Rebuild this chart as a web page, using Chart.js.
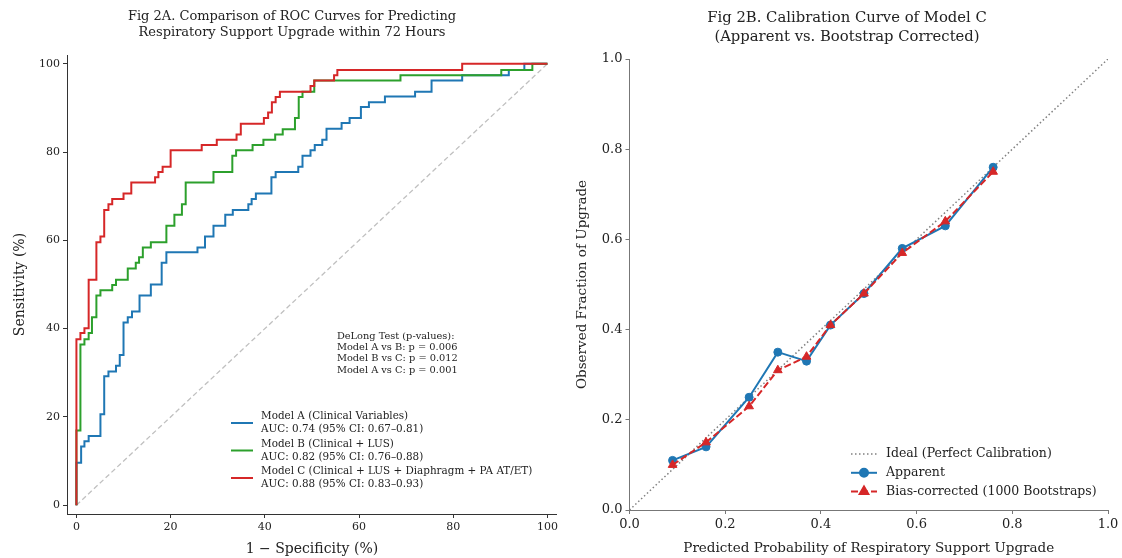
<!DOCTYPE html>
<html>
<head>
<meta charset="utf-8">
<script src="https://cdn.jsdelivr.net/npm/chart.js@4.4.0/dist/chart.umd.min.js"></script>
<style>
  html, body { margin: 0; padding: 0; background: #fff; }
  #wrap { position: relative; width: 1122px; height: 558px; }
  canvas { position: absolute; top: 0; }
</style>
</head>
<body>
<div id="wrap">
  <canvas id="roc" width="561" height="558" style="left:0;width:561px;height:558px"></canvas>
  <canvas id="cal" width="561" height="558" style="left:561px;width:561px;height:558px"></canvas>
</div>
<script>
// ROC curves (FPR %, TPR %)
const fprA = [0, 0, 1.0, 1.7, 2.6, 5.1, 5.9, 6.8, 8.4, 9.2, 10.0, 10.9, 11.8, 13.4, 15.8, 18.1, 19.1, 25.7, 27.3, 29.1, 31.6, 33.2, 36.5, 37.2, 38.1, 41.4, 42.3, 47.1, 48.0, 49.7, 50.6, 52.2, 53.1, 56.3, 58.0, 60.4, 62.1, 65.5, 71.9, 75.4, 81.9, 91.8, 95.1, 100];
const tprA = [0, 9.6, 13.3, 14.5, 15.7, 20.6, 29.2, 30.3, 31.6, 34.0, 41.4, 42.6, 43.9, 47.5, 50.0, 54.9, 57.3, 58.4, 60.9, 63.3, 65.8, 66.9, 68.2, 69.4, 70.6, 74.3, 75.5, 76.7, 79.2, 80.4, 81.6, 82.8, 85.3, 86.6, 87.7, 90.2, 91.3, 92.6, 93.7, 96.2, 97.4, 98.6, 100, 100];
const fprB = [0, 0, 0.85, 1.7, 2.6, 3.3, 4.24, 5.1, 7.6, 8.4, 10.9, 12.6, 13.3, 14.1, 15.8, 19.1, 20.8, 22.4, 23.2, 29.1, 33.1, 33.9, 37.4, 39.7, 42.2, 43.8, 46.4, 47.2, 48.0, 50.5, 68.8, 90.2, 96.8, 100];
const tprB = [0, 16.9, 36.4, 37.6, 39.0, 42.6, 47.5, 48.7, 49.9, 51.1, 53.6, 54.9, 56.2, 58.4, 59.6, 63.3, 65.8, 68.2, 73.1, 75.5, 79.2, 80.4, 81.6, 82.8, 84.0, 85.2, 87.7, 92.5, 93.7, 96.2, 97.4, 98.6, 100, 100];
const fprC = [0, 0, 0.85, 1.7, 2.6, 4.24, 5.1, 5.9, 6.8, 7.6, 10.0, 11.65, 16.7, 17.4, 18.3, 20.0, 26.6, 29.8, 34.0, 34.9, 39.8, 40.7, 41.5, 42.3, 43.2, 49.7, 50.5, 54.7, 55.4, 81.9, 100];
const tprC = [0, 37.6, 39.0, 40.1, 51.1, 59.6, 60.9, 66.9, 68.2, 69.4, 70.6, 73.1, 74.3, 75.5, 76.7, 80.4, 81.6, 82.8, 84.0, 86.4, 87.7, 89.0, 91.3, 92.5, 93.7, 95.0, 96.2, 97.4, 98.6, 100, 100];
const chanceX = [0, 100];
const chanceY = [0, 100];
const rocTicks = [0, 20, 40, 60, 80, 100];

const rocLabels = [
  ["Model A (Clinical Variables)", "AUC: 0.74 (95% CI: 0.67\u20130.81)"],
  ["Model B (Clinical + LUS)", "AUC: 0.82 (95% CI: 0.76\u20130.88)"],
  ["Model C (Clinical + LUS + Diaphragm + PA AT/ET)", "AUC: 0.88 (95% CI: 0.83\u20130.93)"]
];
const delongText = [
  "DeLong Test (p-values):",
  "Model A vs B: p = 0.006",
  "Model B vs C: p = 0.012",
  "Model A vs C: p = 0.001"
];

// calibration of model C
const predProb = [0.09, 0.16, 0.25, 0.31, 0.37, 0.42, 0.49, 0.57, 0.66, 0.76];
const obsApparent = [0.11, 0.14, 0.25, 0.35, 0.33, 0.41, 0.48, 0.58, 0.63, 0.76];
const obsCorrected = [0.10, 0.15, 0.23, 0.31, 0.34, 0.41, 0.48, 0.57, 0.64, 0.75];
const idealX = [0, 1];
const idealY = [0, 1];
const calTicks = [0, 0.2, 0.4, 0.6, 0.8, 1.0];
const calLabels = ["Ideal (Perfect Calibration)", "Apparent", "Bias-corrected (1000 Bootstraps)"];

const SERIF = "'DejaVu Serif', serif";
Chart.defaults.font.family = SERIF;
Chart.defaults.color = '#222';

const pts = (xs, ys) => xs.map((x, i) => ({ x: x, y: ys[i] }));

const figTitle = {
  id: 'figTitle',
  afterDraw(chart, args, o) {
    const ctx = chart.ctx;
    ctx.save();
    ctx.font = o.font;
    ctx.fillStyle = '#222';
    ctx.textAlign = 'center';
    ctx.textBaseline = 'middle';
    o.lines.forEach((t, i) => ctx.fillText(t, o.x, o.y + i * o.gap));
    ctx.restore();
  }
};

const boxLegend = {
  id: 'boxLegend',
  afterDraw(chart, args, o) {
    const ctx = chart.ctx;
    ctx.save();
    ctx.font = o.font;
    ctx.textBaseline = 'middle';
    o.items.forEach((it, i) => {
      const y0 = o.y + i * o.rowGap;
      const mid = y0 + (it.text.length - 1) * o.lineGap / 2;
      ctx.strokeStyle = it.color;
      ctx.lineWidth = it.width;
      ctx.setLineDash(it.dash || []);
      ctx.beginPath();
      ctx.moveTo(o.x, mid);
      ctx.lineTo(o.x + o.len, mid);
      ctx.stroke();
      ctx.setLineDash([]);
      if (it.marker) {
        ctx.fillStyle = it.color;
        Chart.helpers.drawPoint(ctx, { pointStyle: it.marker, radius: it.radius, rotation: 0, borderWidth: 1 }, o.x + o.len / 2, mid);
      }
      ctx.fillStyle = '#222';
      it.text.forEach((t, j) => ctx.fillText(t, o.x + o.len + o.pad, y0 + j * o.lineGap));
    });
    ctx.restore();
  }
};

const delongNote = {
  id: 'delongNote',
  afterDraw(chart, args, o) {
    const ctx = chart.ctx;
    const x = chart.scales.x.getPixelForValue(o.at[0]);
    const y = chart.scales.y.getPixelForValue(o.at[1]);
    ctx.save();
    ctx.font = o.font;
    ctx.fillStyle = '#222';
    ctx.textBaseline = 'middle';
    o.lines.forEach((t, i) => ctx.fillText(t, x, y + i * o.gap));
    ctx.restore();
  }
};

function axisStyle(color, size) {
  return {
    grid: { drawOnChartArea: false, drawTicks: true, tickLength: 4, color: color, lineWidth: 1 },
    border: { display: true, color: color, width: 1 },
    ticks: { font: { size: size }, color: '#222', padding: 3, maxRotation: 0 }
  };
}

// Fig 2A
const rx = axisStyle('#333', 11);
const ry = axisStyle('#333', 11);
new Chart(document.getElementById('roc'), {
  type: 'line',
  data: {
    datasets: [
      { data: pts(fprA, tprA), borderColor: '#1f77b4', borderWidth: 2, stepped: 'before', pointRadius: 0, order: 3 },
      { data: pts(fprB, tprB), borderColor: '#2ca02c', borderWidth: 2, stepped: 'before', pointRadius: 0, order: 2 },
      { data: pts(fprC, tprC), borderColor: '#d62728', borderWidth: 2, stepped: 'before', pointRadius: 0, order: 1 },
      { data: pts(chanceX, chanceY), borderColor: '#c0c0c0', borderWidth: 1.3, borderDash: [5, 3], pointRadius: 0, order: 4 }
    ]
  },
  options: {
    responsive: false,
    animation: false,
    layout: { padding: { top: 55, left: 0, right: 4, bottom: 0 } },
    plugins: {
      legend: { display: false },
      tooltip: { enabled: false },
      figTitle: {
        lines: ["Fig 2A. Comparison of ROC Curves for Predicting", "Respiratory Support Upgrade within 72 Hours"],
        x: 292, y: 16.7, gap: 15.6, font: "13px " + SERIF
      },
      delongNote: { lines: delongText, at: [55.3, 38.3], gap: 11.3, font: "9.8px " + SERIF },
      boxLegend: {
        x: 231, y: 416.7, len: 22, pad: 8, lineGap: 12.6, rowGap: 27.5, font: "10.4px " + SERIF,
        items: [
          { text: rocLabels[0], color: '#1f77b4', width: 2 },
          { text: rocLabels[1], color: '#2ca02c', width: 2 },
          { text: rocLabels[2], color: '#d62728', width: 2 }
        ]
      }
    },
    scales: {
      x: Object.assign(rx, {
        type: 'linear', min: -2, max: 102,
        afterBuildTicks: s => { s.ticks = rocTicks.map(v => ({ value: v })); },
        afterFit: s => { s.height = 44; },
        title: { display: true, text: "1 \u2212 Specificity (%)", font: { size: 14 }, padding: { top: 0, bottom: 0.6 } }
      }),
      y: Object.assign(ry, {
        type: 'linear', min: -2, max: 102,
        afterBuildTicks: s => { s.ticks = rocTicks.map(v => ({ value: v })); },
        afterFit: s => { s.width = 67; },
        title: { display: true, text: "Sensitivity (%)", font: { size: 14 }, padding: { top: 11.6, bottom: 0 } }
      })
    }
  },
  plugins: [figTitle, boxLegend, delongNote]
});

// Fig 2B
const cx = axisStyle('#777', 13);
const cy = axisStyle('#777', 13);
cx.ticks.callback = v => v.toFixed(1);
cy.ticks.callback = v => v.toFixed(1);
new Chart(document.getElementById('cal'), {
  type: 'line',
  data: {
    datasets: [
      { data: pts(idealX, idealY), borderColor: '#808080', borderWidth: 1.5, borderDash: [1.5, 2.5], pointRadius: 0, order: 3 },
      { data: pts(predProb, obsApparent), borderColor: '#1f77b4', backgroundColor: '#1f77b4', borderWidth: 2,
        pointStyle: 'circle', pointRadius: 4, pointBorderWidth: 1, order: 2 },
      { data: pts(predProb, obsCorrected), borderColor: '#d62728', backgroundColor: '#d62728', borderWidth: 2,
        borderDash: [7, 3], pointStyle: 'triangle', pointRadius: 5, pointBorderWidth: 1, order: 1 }
    ]
  },
  options: {
    responsive: false,
    animation: false,
    layout: { padding: { top: 59, left: 0, right: 14, bottom: 0 } },
    plugins: {
      legend: { display: false },
      tooltip: { enabled: false },
      figTitle: {
        lines: ["Fig 2B. Calibration Curve of Model C", "(Apparent vs. Bootstrap Corrected)"],
        x: 286, y: 18, gap: 18.7, font: "14.8px " + SERIF
      },
      boxLegend: {
        x: 290, y: 454, len: 26, pad: 9, lineGap: 14, rowGap: 18.8, font: "12.5px " + SERIF,
        items: [
          { text: [calLabels[0]], color: '#808080', width: 1.5, dash: [1.5, 2.5] },
          { text: [calLabels[1]], color: '#1f77b4', width: 2, marker: 'circle', radius: 4 },
          { text: [calLabels[2]], color: '#d62728', width: 2, dash: [7, 3], marker: 'triangle', radius: 5 }
        ]
      }
    },
    scales: {
      x: Object.assign(cx, {
        type: 'linear', min: 0, max: 1,
        afterBuildTicks: s => { s.ticks = calTicks.map(v => ({ value: v })); },
        afterFit: s => { s.height = 48; },
        title: { display: true, text: "Predicted Probability of Respiratory Support Upgrade", font: { size: 13.5 }, padding: { top: 0, bottom: 1.9 } }
      }),
      y: Object.assign(cy, {
        type: 'linear', min: 0, max: 1,
        afterBuildTicks: s => { s.ticks = calTicks.map(v => ({ value: v })); },
        afterFit: s => { s.width = 68.5; },
        title: { display: true, text: "Observed Fraction of Upgrade", font: { size: 13.5 }, padding: { top: 12.9, bottom: 0 } }
      })
    }
  },
  plugins: [figTitle, boxLegend]
});
</script>
</body>
</html>
